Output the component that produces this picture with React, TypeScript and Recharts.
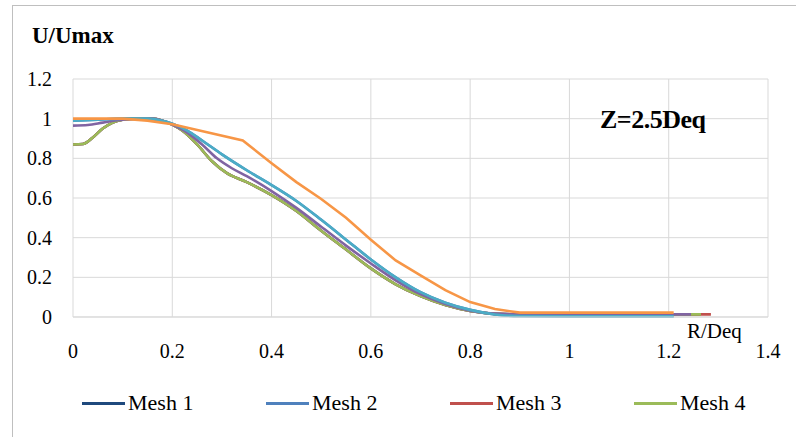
import React from "react";
import {
  LineChart,
  Line,
  XAxis,
  YAxis,
  CartesianGrid,
  Legend,
} from "recharts";

// radial position R/Deq and normalised velocity U/Umax for each run
const mesh1R = [0, 0.02, 0.04, 0.06, 0.08, 0.1, 0.13, 0.16, 0.18, 0.2, 0.22, 0.25, 0.28, 0.31, 0.35, 0.4, 0.45, 0.5, 0.55, 0.6, 0.65, 0.7, 0.75, 0.8, 0.85, 0.9, 1.0, 1.1, 1.2, 1.265];
const mesh1U = [0.87, 0.872, 0.905, 0.95, 0.98, 0.995, 1.0, 1.0, 0.99, 0.97, 0.94, 0.87, 0.785, 0.725, 0.68, 0.615, 0.535, 0.435, 0.34, 0.245, 0.165, 0.105, 0.06, 0.03, 0.016, 0.013, 0.013, 0.013, 0.013, 0.013];

const mesh2R = [0, 0.05, 0.1, 0.15, 0.18, 0.2, 0.23, 0.26, 0.3, 0.35, 0.4, 0.45, 0.5, 0.55, 0.6, 0.65, 0.7, 0.75, 0.8, 0.85, 0.9, 1.0, 1.1, 1.21];
const mesh2U = [0.99, 0.995, 1.0, 1.0, 0.99, 0.975, 0.94, 0.89, 0.82, 0.74, 0.665, 0.585, 0.49, 0.39, 0.29, 0.2, 0.125, 0.072, 0.036, 0.013, 0.005, 0.004, 0.004, 0.004];

const mesh3R = [0, 0.02, 0.04, 0.06, 0.08, 0.1, 0.13, 0.16, 0.18, 0.2, 0.22, 0.25, 0.28, 0.31, 0.35, 0.4, 0.45, 0.5, 0.55, 0.6, 0.65, 0.7, 0.75, 0.8, 0.85, 0.9, 1.0, 1.1, 1.2, 1.265, 1.285];
const mesh3U = [0.87, 0.872, 0.905, 0.95, 0.98, 0.995, 1.0, 1.0, 0.99, 0.97, 0.94, 0.87, 0.785, 0.725, 0.68, 0.615, 0.535, 0.435, 0.34, 0.245, 0.165, 0.105, 0.06, 0.03, 0.016, 0.013, 0.013, 0.013, 0.013, 0.013, 0.013];

const mesh4R = [0, 0.02, 0.04, 0.06, 0.08, 0.1, 0.13, 0.16, 0.18, 0.2, 0.22, 0.25, 0.28, 0.31, 0.35, 0.4, 0.45, 0.5, 0.55, 0.6, 0.65, 0.7, 0.75, 0.8, 0.85, 0.9, 1.0, 1.1, 1.2, 1.265];
const mesh4U = [0.87, 0.872, 0.905, 0.95, 0.98, 0.995, 1.0, 1.0, 0.99, 0.97, 0.94, 0.87, 0.785, 0.725, 0.68, 0.615, 0.535, 0.435, 0.34, 0.245, 0.165, 0.105, 0.06, 0.03, 0.016, 0.013, 0.013, 0.013, 0.013, 0.013];

const series5R = [0, 0.03, 0.06, 0.09, 0.12, 0.16, 0.18, 0.2, 0.23, 0.26, 0.29, 0.32, 0.35, 0.4, 0.45, 0.5, 0.55, 0.6, 0.65, 0.7, 0.75, 0.8, 0.85, 0.9, 1.0, 1.1, 1.2, 1.245];
const series5U = [0.965, 0.968, 0.98, 0.992, 0.998, 1.0, 0.99, 0.97, 0.93, 0.87, 0.8, 0.75, 0.71, 0.635, 0.55, 0.455, 0.36, 0.27, 0.185, 0.115, 0.065, 0.032, 0.017, 0.014, 0.013, 0.013, 0.013, 0.013];

const series6R = [0, 0.05, 0.1, 0.15, 0.18, 0.2, 0.23, 0.26, 0.3, 0.35, 0.4, 0.45, 0.5, 0.55, 0.6, 0.65, 0.7, 0.75, 0.8, 0.85, 0.9, 1.0, 1.1, 1.21];
const series6U = [0.99, 0.995, 1.0, 1.0, 0.99, 0.975, 0.94, 0.89, 0.82, 0.74, 0.665, 0.585, 0.49, 0.39, 0.29, 0.2, 0.125, 0.072, 0.036, 0.013, 0.005, 0.004, 0.004, 0.004];

const series7R = [0, 0.05, 0.1, 0.15, 0.2, 0.27, 0.342, 0.4, 0.45, 0.5, 0.55, 0.6, 0.65, 0.7, 0.75, 0.8, 0.85, 0.9, 1.0, 1.1, 1.21];
const series7U = [1.0, 1.0, 1.0, 0.99, 0.972, 0.932, 0.89, 0.775, 0.68, 0.595, 0.5, 0.39, 0.285, 0.21, 0.135, 0.075, 0.04, 0.022, 0.022, 0.022, 0.022];

const xTicks = [0, 0.2, 0.4, 0.6, 0.8, 1, 1.2, 1.4];
const yTicks = [0, 0.2, 0.4, 0.6, 0.8, 1, 1.2];

const FONT = "Liberation Serif, Tinos, DejaVu Serif, serif";

const toPoints = (r: number[], u: number[]) => r.map((v, i) => ({ r: v, u: u[i] }));

const series = [
  { name: "Mesh 1", color: "#1F497D", data: toPoints(mesh1R, mesh1U), legend: true, type: "monotone" },
  { name: "Mesh 2", color: "#4F81BD", data: toPoints(mesh2R, mesh2U), legend: true, type: "monotone" },
  { name: "Mesh 3", color: "#C0504D", data: toPoints(mesh3R, mesh3U), legend: true, type: "monotone" },
  { name: "Mesh 4", color: "#9BBB59", data: toPoints(mesh4R, mesh4U), legend: true, type: "monotone" },
  { name: "Series 5", color: "#8064A2", data: toPoints(series5R, series5U), legend: false, type: "monotone" },
  { name: "Series 6", color: "#4BACC6", data: toPoints(series6R, series6U), legend: false, type: "monotone" },
  { name: "Series 7", color: "#F79646", data: toPoints(series7R, series7U), legend: false, type: "linear" },
];

const legendItems = series.filter((s) => s.legend);

const renderLegend = () => (
  <div style={{ position: "relative", width: 796, height: 36 }}>
    {legendItems.map((s, i) => (
      <div
        key={s.name}
        style={{
          position: "absolute",
          left: 82 + i * 184,
          top: 0,
          height: 36,
          display: "flex",
          alignItems: "center",
          fontFamily: FONT,
          fontSize: 22,
          color: "#000",
          whiteSpace: "nowrap",
        }}
      >
        <span style={{ display: "inline-block", width: 43, height: 3, background: s.color, marginRight: 3 }} />
        <span>{s.name}</span>
      </div>
    ))}
  </div>
);

export default function App() {
  return (
    <div
      style={{
        position: "absolute",
        left: 0,
        top: 0,
        width: 796,
        height: 437,
        background: "#fff",
        overflow: "hidden",
        fontFamily: FONT,
      }}
    >
      <div
        style={{
          position: "absolute",
          left: 12,
          top: 5,
          right: 0,
          bottom: 0,
          borderLeft: "1px solid #bfbfbf",
          borderTop: "1px solid #bfbfbf",
        }}
      />
      <LineChart
        width={796}
        height={437}
        margin={{ top: 79, right: 28, bottom: 80, left: 0 }}
        style={{ position: "absolute", left: 0, top: 0, fontFamily: FONT }}
      >
        <CartesianGrid stroke="#d9d9d9" strokeWidth={1} />
        <XAxis
          dataKey="r"
          type="number"
          domain={[0, 1.4]}
          ticks={xTicks}
          allowDataOverflow
          height={40}
          axisLine={{ stroke: "#d9d9d9" }}
          tickLine={false}
          tickSize={0}
          tickMargin={27}
          tick={{ fill: "#000", fontSize: 20, fontFamily: FONT }}
        />
        <YAxis
          type="number"
          domain={[0, 1.2]}
          ticks={yTicks}
          width={73}
          axisLine={false}
          tickLine={false}
          tickSize={0}
          tickMargin={21}
          tick={{ fill: "#000", fontSize: 20, fontFamily: FONT }}
        />
        <Legend
          layout="horizontal"
          verticalAlign="middle"
          align="center"
          wrapperStyle={{ top: 385, left: 0, width: 796 }}
          content={renderLegend}
        />
        {series.map((s) => (
          <Line
            key={s.name}
            name={s.name}
            data={s.data}
            dataKey="u"
            type={s.type as "monotone" | "linear"}
            stroke={s.color}
            strokeWidth={2.6}
            dot={false}
            activeDot={false}
            legendType={s.legend ? "line" : "none"}
            isAnimationActive={false}
          />
        ))}
      </LineChart>
      <svg
        width={796}
        height={437}
        style={{ position: "absolute", left: 0, top: 0, pointerEvents: "none", fontFamily: FONT }}
      >
        <text x={32} y={43} fontSize={23} fontWeight="bold" fill="#000">
          U/Umax
        </text>
        <text x={600} y={128} fontSize={26} fontWeight="bold" letterSpacing={-0.5} fill="#000">
          Z=2.5Deq
        </text>
        <text x={687} y={338} fontSize={21} fill="#000">
          R/Deq
        </text>
      </svg>
    </div>
  );
}
